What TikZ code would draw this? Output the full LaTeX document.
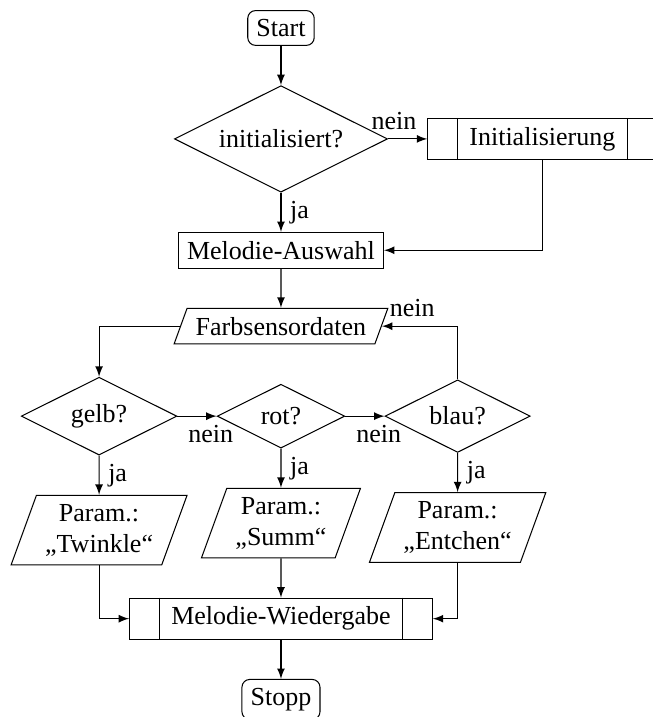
\documentclass[tikz,border=0pt]{standalone}
\usepackage{fontspec}
\setmainfont{Liberation Serif}
\usepackage{tikz}
\usetikzlibrary{positioning,shapes,arrows}

\begin{document}
\begin{tikzpicture}[
		node distance=5.3mm,
		>=latex,
		term/.style={draw, rounded corners=3pt},
		box/.style={draw, rectangle},
		subproc/.style={draw, rectangle, inner xsep=16pt},
		decision/.style={draw, diamond, aspect=2},
		io/.style={draw, trapezium, trapezium left angle=70, trapezium right angle=110, align=center}
	]
		\useasboundingbox (-3.797,0.378) rectangle (5.014,-9.311);

		% Start and init
		\node[term] (start) at (0,0) {Start};
		\node[decision, below=of start] (q1) {initialisiert?};
		\node[subproc, right=of q1] (init) {Initialisierung};
		\node[box, below=of q1] (auswahl) {Melodie-Auswahl};
		\node[io, below=of auswahl] (farb) {Farbsensordaten};

		% Colour checks
		\node[decision, below=of farb] (rot) {rot?};
		\node[decision, left=of rot] (gelb) {gelb?};
		\node[decision, right=of rot] (blau) {blau?};

		% Parameters
		\node[io, below=of gelb] (twinkle) {Param.:\\„Twinkle“};
		\node[io, below=of rot] (summ) {Param.:\\„Summ“};
		\node[io, below=of blau] (entchen) {Param.:\\„Entchen“};

		% Playback and stop
		\node[subproc, below=of summ] (play) {Melodie-Wiedergabe};
		\node[term, below=of play] (stopp) {Stopp};

		% side bars of the sub processes
		\foreach \n in {init,play} {
			\draw ([xshift=11.5pt]\n.north west) -- ([xshift=11.5pt]\n.south west);
			\draw ([xshift=-11.5pt]\n.north east) -- ([xshift=-11.5pt]\n.south east);
		}

		% Connectors
		\draw[->] (start) -- (q1);
		\draw[->] (q1) -- node[above, pos=0.15] {nein} (init);
		\draw[->] (q1) -- node[right] {ja} (auswahl);
		\draw[->] (init) |- (auswahl);
		\draw[->] (auswahl) -- (farb);
		\draw[->] (farb) -| (gelb);
		\draw[->] (gelb) -- node[below, pos=0.85] {nein} (rot);
		\draw[->] (rot) -- node[below, pos=0.85] {nein} (blau);
		\draw[->] (blau) |- node[above, pos=0.8] {nein} (farb);
		\draw[->] (gelb) -- node[right] {ja} (twinkle);
		\draw[->] (rot) -- node[right] {ja} (summ);
		\draw[->] (blau) -- node[right] {ja} (entchen);
		\draw[->] (twinkle) |- (play);
		\draw[->] (summ) -- (play);
		\draw[->] (entchen) |- (play);
		\draw[->] (play) -- (stopp);
	\end{tikzpicture}
\end{document}
